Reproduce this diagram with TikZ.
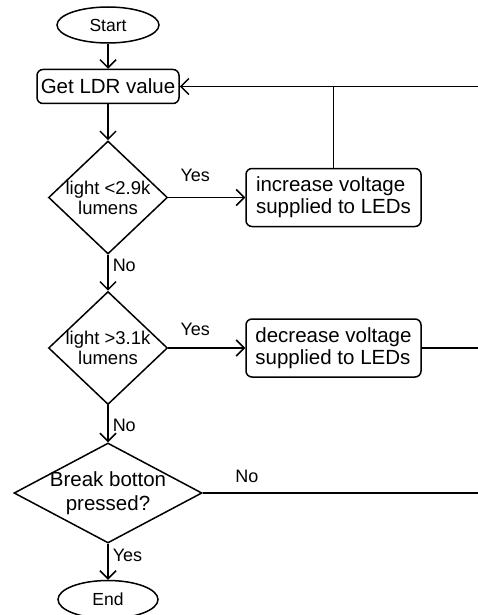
\documentclass[tikz,border=0pt]{standalone}
\usepackage{fontspec}
\setmainfont{Liberation Sans}
\usetikzlibrary{shapes.geometric,arrows.meta,positioning}

\begin{document}
\begin{tikzpicture}[x=1pt, y=-1pt, line width=1.5pt,
    terminal/.style={draw, ellipse, minimum width=102pt, minimum height=36pt, inner sep=0pt, font=\fontsize{17.5}{20}\selectfont},
    block/.style={draw, rectangle, rounded corners=6pt, inner sep=0pt, font=\fontsize{20.5}{22}\selectfont},
    decision/.style={draw, diamond, aspect=1.05, inner sep=-4pt, align=center, font=\fontsize{18.5}{20}\selectfont},
    flow/.style={-{Straight Barb[length=8pt,width=16pt]}},
    lbl/.style={inner sep=2pt, font=\fontsize{18}{20}\selectfont}]
    \useasboundingbox (0,0) rectangle (478,615);
    \path (478,0) coordinate (edge);

    % Main column (start, read, two checks, break check, end)
    \node[terminal] (start) at (108,25) {Start};
    \node[block, minimum width=142pt, minimum height=34pt, below=25pt of start] (ldr) {Get LDR value};
    \node[decision, minimum width=119pt, minimum height=113pt, below=36pt of ldr] (light1) {light <2.9k\\lumens};
    \node[decision, minimum width=119pt, minimum height=113pt, below=36pt of light1] (light2) {light >3.1k\\lumens};
    \node[decision, aspect=1.88, minimum width=188pt, minimum height=100pt, font=\fontsize{20.5}{24}\selectfont, below=37pt of light2] (brk) {Break botton\\pressed?};
    \node[terminal, minimum width=100pt, minimum height=38pt, below=36pt of brk] (end) {End};

    % Voltage adjustments
    \node[block, align=left, minimum width=175pt, minimum height=58pt, right=77pt of light1] (inc) {increase voltage\\supplied to LEDs};
    \node[block, align=left, minimum width=175pt, minimum height=58pt, right=77pt of light2] (dec) {decrease voltage\\supplied to LEDs};

    % Down the column
    \draw[flow] (start) -- (ldr);
    \draw[flow] (ldr) -- (light1);
    \draw[flow] (light1) -- node[lbl, right=2pt, pos=0.3] {No} (light2);
    \draw[flow] (light2) -- node[lbl, right=2pt, pos=0.55] {No} (brk);
    \draw[flow] (brk) -- node[lbl, right=2pt, pos=0.33] {Yes} (end);

    % Yes branches
    \draw[flow] (light1) -- node[lbl, above=13pt, pos=0.35] {Yes} (inc);
    \draw[flow] (light2) -- node[lbl, above=10pt, pos=0.35] {Yes} (dec);

    % Loop back lines
    \draw[flow] (ldr.east -| edge) -- (ldr.east);
    \draw (inc.north) -- (inc.north |- ldr.east);
    \draw (dec.east) -- (dec.east -| edge);
    \draw (brk.east) -- node[lbl, above=8pt, pos=0.16] {No} (brk.east -| edge);
\end{tikzpicture}
\end{document}
